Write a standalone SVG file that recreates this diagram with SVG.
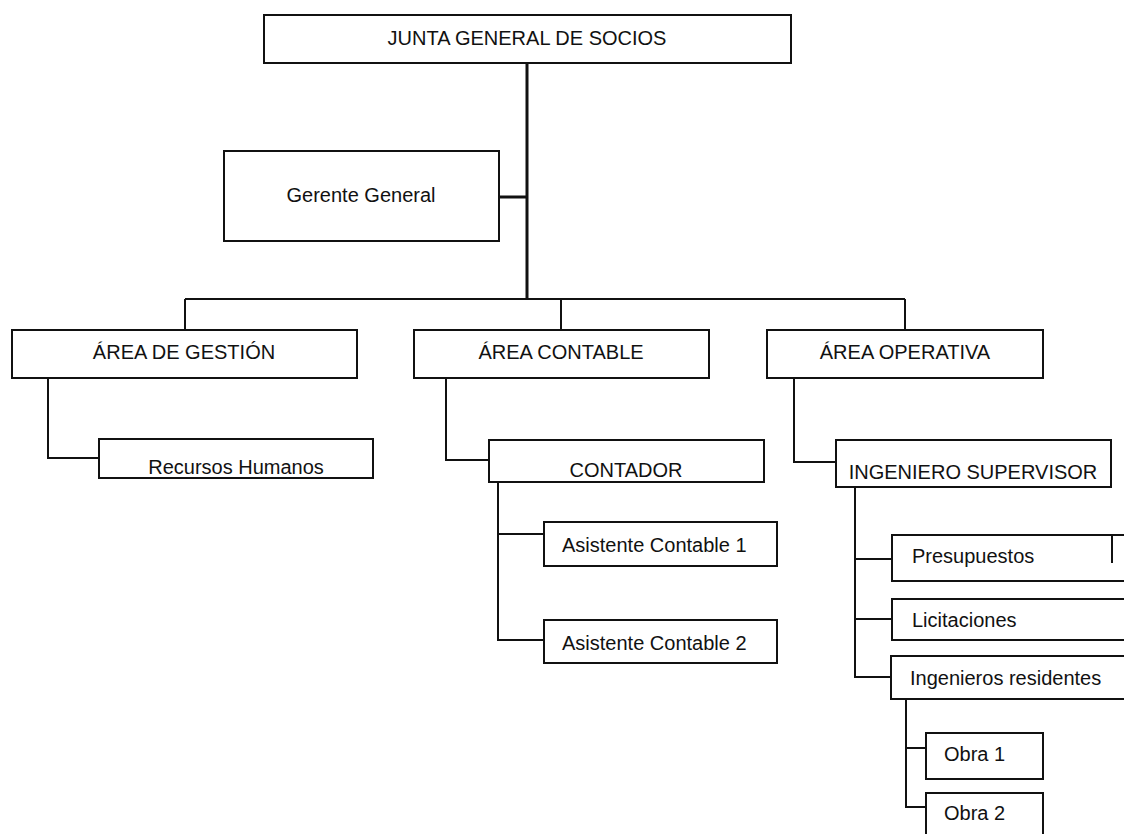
<svg xmlns="http://www.w3.org/2000/svg" width="1124" height="834" viewBox="0 0 1124 834">
<style>
.b{fill:#fff;stroke:#111;stroke-width:2}
.t{font-family:"Liberation Sans",Arial,sans-serif;font-size:20px;fill:#111}
.c{text-anchor:middle}
.l{fill:none;stroke:#111;stroke-width:2}
.h{fill:none;stroke:#111;stroke-width:3}
</style>
<rect width="1124" height="834" fill="#fff"/>
<g id="connectors">
<path class="h" d="M527 63V299M499 197H527"/>
<path class="l" d="M185 299H905M185 299V330M561 299V330M905 299V330"/>
<path class="l" d="M48 378V458H99M446 378V460H489M794 378V462H836"/>
<path class="l" d="M498 482V640H544M498 534H544"/>
<path class="l" d="M855 487V677H891M855 559H892M855 619H892"/>
<path class="l" d="M906 699V807H926M906 748H926"/>
</g>
<g id="junta"><rect class="b" x="264" y="15" width="527" height="48"/><text class="t c" x="527" y="45">JUNTA GENERAL DE SOCIOS</text></g>
<g id="gerente"><rect class="b" x="224" y="151" width="275" height="90"/><text class="t c" x="361" y="202">Gerente General</text></g>
<g id="area-gestion"><rect class="b" x="12" y="330" width="345" height="48"/><text class="t c" x="184" y="359">ÁREA DE GESTIÓN</text></g>
<g id="area-contable"><rect class="b" x="414" y="330" width="295" height="48"/><text class="t c" x="561" y="359">ÁREA CONTABLE</text></g>
<g id="area-operativa"><rect class="b" x="767" y="330" width="276" height="48"/><text class="t c" x="905" y="359">ÁREA OPERATIVA</text></g>
<g id="rrhh"><rect class="b" x="99" y="439" width="274" height="39"/><text class="t c" x="236" y="474">Recursos Humanos</text></g>
<g id="contador"><rect class="b" x="489" y="440" width="275" height="42"/><text class="t c" x="626" y="477">CONTADOR</text></g>
<g id="asistente1"><rect class="b" x="544" y="522" width="233" height="44"/><text class="t" x="562" y="552">Asistente Contable 1</text></g>
<g id="asistente2"><rect class="b" x="544" y="620" width="233" height="43"/><text class="t" x="562" y="650">Asistente Contable 2</text></g>
<g id="ing-supervisor"><rect class="b" x="836" y="440" width="275" height="47"/><text class="t c" x="973" y="479">INGENIERO SUPERVISOR</text></g>
<g id="presupuestos"><rect class="b" x="892" y="535" width="250" height="46"/><path class="l" d="M1112 535V563"/><text class="t" x="912" y="563">Presupuestos</text></g>
<g id="licitaciones"><rect class="b" x="892" y="599" width="250" height="41"/><text class="t" x="912" y="627">Licitaciones</text></g>
<g id="ing-residentes"><rect class="b" x="891" y="656" width="251" height="43"/><text class="t" x="910" y="685">Ingenieros residentes</text></g>
<g id="obra1"><rect class="b" x="926" y="733" width="117" height="46"/><text class="t" x="944" y="761">Obra 1</text></g>
<g id="obra2"><rect class="b" x="926" y="793" width="117" height="60"/><text class="t" x="944" y="820">Obra 2</text></g>
</svg>
